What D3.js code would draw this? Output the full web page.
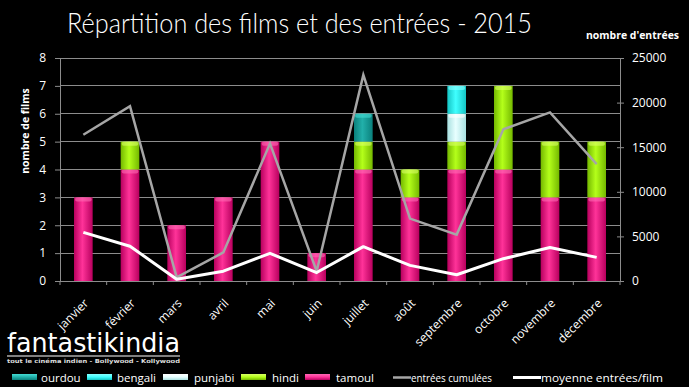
<!DOCTYPE html>
<html><head><meta charset="utf-8">
<script src="https://cdn.jsdelivr.net/npm/d3@7"></script>
<style>
html,body{margin:0;padding:0;background:#000;}
svg{display:block;}
</style></head>
<body>
<svg id="chart" width="689" height="387"></svg>
<script>
const months = ["janvier","février","mars","avril","mai","juin","juillet","août","septembre","octobre","novembre","décembre"];
const tamoul  = [3,4,2,3,5,1,4,3,4,4,3,3];
const hindi   = [0,1,0,0,0,0,1,1,1,3,2,2];
const punjabi = [0,0,0,0,0,0,0,0,1,0,0,0];
const bengali = [0,0,0,0,0,0,0,0,1,0,0,0];
const ourdou  = [0,0,0,0,0,0,1,0,0,0,0,0];
const entreesCumulees = [16400,19600,400,3200,15400,1100,23100,7000,5200,17000,18900,13100];
const moyenneEntrees  = [5450,3900,200,1100,3100,950,3850,1750,700,2500,3750,2650];
const leftTicks = [0,1,2,3,4,5,6,7,8];
const rightTicks = [0,5000,10000,15000,20000,25000];

const langs = [
  {key:"tamoul", values:tamoul, c1:"#b8005e", c2:"#ff3399", top:"#ff6ab4"},
  {key:"hindi", values:hindi, c1:"#74b800", c2:"#b4ff1a", top:"#d8ff66"},
  {key:"punjabi", values:punjabi, c1:"#a8e0e0", c2:"#e8ffff", top:"#ffffff"},
  {key:"bengali", values:bengali, c1:"#14c4c4", c2:"#40ffff", top:"#8affff"},
  {key:"ourdou", values:ourdou, c1:"#0a807c", c2:"#22b0aa", top:"#44dcd4"}
];

const svg = d3.select("#chart");
const font = "'Open Sans', sans-serif";
const L = 60, R = 620, T = 58, B = 281;

const x = d3.scaleBand().domain(months).range([L, R]).paddingInner(0.6).paddingOuter(0.3);
const xc = d => x(d) + x.bandwidth()/2;
const yL = d3.scaleLinear().domain([0,8]).range([B, T]);
const yR = d3.scaleLinear().domain([0,25000]).range([B, T]);

// gradients
const defs = svg.append("defs");
langs.forEach(l => {
  const g = defs.append("linearGradient").attr("id","g-"+l.key).attr("x1","0").attr("x2","1").attr("y1","0").attr("y2","0");
  g.append("stop").attr("offset","0%").attr("stop-color", l.c1);
  g.append("stop").attr("offset","45%").attr("stop-color", l.c2);
  g.append("stop").attr("offset","100%").attr("stop-color", l.c1);
  const gv = defs.append("linearGradient").attr("id","gv-"+l.key).attr("x1","0").attr("x2","0").attr("y1","0").attr("y2","1");
  gv.append("stop").attr("offset","0%").attr("stop-color", l.top);
  gv.append("stop").attr("offset","50%").attr("stop-color", l.c2);
  gv.append("stop").attr("offset","100%").attr("stop-color", l.c1);
});

// title
svg.append("g").attr("transform", "translate(67,33) scale(1,1.077)")
  .append("text").attr("x", 0).attr("y", 0)
  .attr("font-family", "Lato, sans-serif").attr("font-weight", 300).attr("font-size", 26)
  .attr("fill", "#fff").attr("textLength", 465).attr("lengthAdjust","spacingAndGlyphs")
  .text("Répartition des films et des entrées - 2015");

svg.append("text").attr("x", 586).attr("y", 39)
  .attr("font-family", font).attr("font-weight", 700).attr("font-size", 10.5)
  .attr("fill", "#fff").attr("textLength", 93).attr("lengthAdjust","spacingAndGlyphs").text("nombre d'entrées");

svg.append("text").attr("transform", `translate(29,131) rotate(-90)`).attr("text-anchor","middle")
  .attr("font-family", font).attr("font-weight", 700).attr("font-size", 10.5)
  .attr("fill", "#fff").text("nombre de films");

// gridlines
svg.append("g").selectAll("line").data(leftTicks.filter(d => d > 0)).join("line")
  .attr("x1", L).attr("x2", R).attr("y1", d => yL(d)).attr("y2", d => yL(d))
  .attr("stroke", "#8c8c8c").attr("stroke-width", 1).attr("shape-rendering","crispEdges");

// left axis
const axL = svg.append("g").attr("transform", `translate(${L},0)`)
  .call(d3.axisLeft(yL).tickValues(leftTicks).tickSize(5).tickPadding(9).tickFormat(d3.format("d")));
// right axis
const axR = svg.append("g").attr("transform", `translate(${R},0)`)
  .call(d3.axisRight(yR).tickValues(rightTicks).tickSize(4).tickPadding(8).tickFormat(d => String(d)));
axR.selectAll(".tick line").attr("x1", -3);
// x axis
const axX = svg.append("g").attr("transform", `translate(0,${B})`)
  .call(d3.axisBottom(x).tickSize(0).tickFormat(""));
const bounds = d3.range(13).map(i => L + (R - L) * i / 12);
axX.selectAll("line.bnd").data(bounds).join("line").attr("class","bnd")
  .attr("x1", d => d).attr("x2", d => d).attr("y1", 0).attr("y2", 4)
  .attr("stroke", "#8c8c8c");

[axL, axR, axX].forEach(a => {
  a.select(".domain").attr("stroke", "#8c8c8c").attr("shape-rendering","crispEdges");
  a.selectAll(".tick line").attr("stroke", "#8c8c8c");
  a.selectAll("text").attr("fill", "#fff").attr("font-family", font).attr("font-size", 12);
});
axX.select(".domain").attr("d", `M${L},0H${R}`);

// month labels
svg.append("g").selectAll("text").data(months).join("text")
  .attr("transform", d => `translate(${xc(d)+6},${304}) rotate(-45)`)
  .attr("text-anchor", "end").attr("fill", "#fff")
  .attr("font-family", font).attr("font-size", 12).text(d => d);

// stacked bars
const rows = months.map((m, i) => {
  const r = {month: m};
  langs.forEach(l => r[l.key] = l.values[i]);
  return r;
});
const stack = d3.stack().keys(langs.map(l => l.key))(rows);
const barG = svg.append("g");
stack.forEach((layer, li) => {
  const l = langs[li];
  const g = barG.append("g");
  const segs = layer.filter(d => d[1] - d[0] > 0);
  g.selectAll("rect.b").data(segs).join("rect").attr("class","b")
    .attr("x", d => x(d.data.month)).attr("width", x.bandwidth())
    .attr("y", d => yL(d[1])).attr("height", d => yL(d[0]) - yL(d[1]))
    .attr("fill", `url(#g-${l.key})`);
  g.selectAll("rect.t").data(segs).join("rect").attr("class","t")
    .attr("x", d => x(d.data.month)+1).attr("width", x.bandwidth()-2)
    .attr("y", d => yL(d[1])).attr("height", 4).attr("rx", 2)
    .attr("fill", l.top).attr("opacity", 0.6);
});

// lines
const line = d3.line().x((d, i) => xc(months[i])).y(d => yR(d));
svg.append("path").datum(entreesCumulees).attr("d", line)
  .attr("fill", "none").attr("stroke", "#a6a6a6").attr("stroke-width", 2.5).attr("stroke-linejoin","miter");
svg.append("path").datum(moyenneEntrees).attr("d", line)
  .attr("fill", "none").attr("stroke", "#ffffff").attr("stroke-width", 3).attr("stroke-linejoin","round");

// logo
svg.append("text").attr("x", 7).attr("y", 352)
  .attr("font-family", "'DejaVu Sans', sans-serif").attr("font-size", 27)
  .attr("fill", "#fff").attr("textLength", 173).attr("lengthAdjust","spacingAndGlyphs")
  .text("fantastikindia");
svg.append("line").attr("x1", 7).attr("x2", 180).attr("y1", 356).attr("y2", 356)
  .attr("stroke", "#fff").attr("stroke-width", 1);
svg.append("text").attr("x", 7).attr("y", 363)
  .attr("font-family", "'DejaVu Sans', sans-serif").attr("font-size", 5.5).attr("font-weight", 700)
  .attr("fill", "#ddd").attr("textLength", 173).attr("lengthAdjust","spacingAndGlyphs")
  .text("tout le cinéma indien - Bollywood - Kollywood");

// legend
const legendItems = [
  {label:"ourdou", key:"ourdou", sx:12, tx:41},
  {label:"bengali", key:"bengali", sx:87, tx:117},
  {label:"punjabi", key:"punjabi", sx:163, tx:194},
  {label:"hindi", key:"hindi", sx:241, tx:272},
  {label:"tamoul", key:"tamoul", sx:305, tx:336}
];
const lg = svg.append("g");
legendItems.forEach(it => {
  lg.append("rect").attr("x", it.sx).attr("y", 374).attr("width", 25).attr("height", 6)
    .attr("fill", `url(#gv-${it.key})`);
  lg.append("text").attr("x", it.tx).attr("y", 382).attr("fill", "#fff")
    .attr("font-family", font).attr("font-size", 11.5).text(it.label);
});
lg.append("line").attr("x1", 393).attr("x2", 411).attr("y1", 377.5).attr("y2", 377.5)
  .attr("stroke", "#a6a6a6").attr("stroke-width", 2.5);
lg.append("text").attr("x", 411).attr("y", 382).attr("fill", "#fff")
  .attr("font-family", font).attr("font-size", 11).attr("textLength", 81).attr("lengthAdjust","spacingAndGlyphs").text("entrées cumulées");
lg.append("line").attr("x1", 513).attr("x2", 541).attr("y1", 377.5).attr("y2", 377.5)
  .attr("stroke", "#fff").attr("stroke-width", 3);
lg.append("text").attr("x", 541).attr("y", 382).attr("fill", "#fff")
  .attr("font-family", font).attr("font-size", 11).attr("textLength", 122).attr("lengthAdjust","spacingAndGlyphs").text("moyenne entrées/film");
</script>
</body></html>
